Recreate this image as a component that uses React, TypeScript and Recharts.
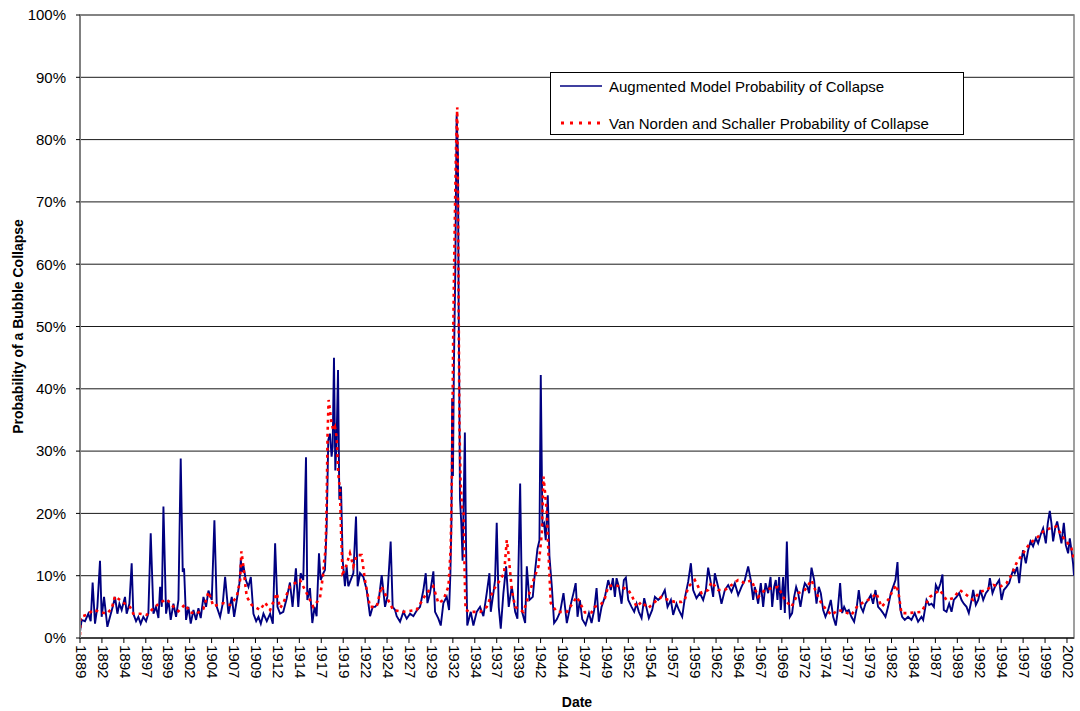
import React from 'react';
import { LineChart, Line, XAxis, YAxis, CartesianGrid, Legend, ReferenceArea } from 'recharts';

const FONT = '"Liberation Sans", Arial, Helvetica, sans-serif';

// x tick positions (decimal time) and the labels shown under them
const xTickValues = [1889, 1891.5, 1894, 1896.5, 1899, 1901.5, 1904, 1906.5, 1909, 1911.5, 1914, 1916.5, 1919, 1921.5, 1924, 1926.5, 1929, 1931.5, 1934, 1936.5, 1939, 1941.5, 1944, 1946.5, 1949, 1951.5, 1954, 1956.5, 1959, 1961.5, 1964, 1966.5, 1969, 1971.5, 1974, 1976.5, 1979, 1981.5, 1984, 1986.5, 1989, 1991.5, 1994, 1996.5, 1999, 2001.5];
const xTickLabels = ['1889', '1892', '1894', '1897', '1899', '1902', '1904', '1907', '1909', '1912', '1914', '1917', '1919', '1922', '1924', '1927', '1929', '1932', '1934', '1937', '1939', '1942', '1944', '1947', '1949', '1952', '1954', '1957', '1959', '1962', '1964', '1967', '1969', '1972', '1974', '1977', '1979', '1982', '1984', '1987', '1989', '1992', '1994', '1997', '1999', '2002'];
const yTickValues = [0, 10, 20, 30, 40, 50, 60, 70, 80, 90, 100];

// Augmented Model Probability of Collapse: [time, percent]
const augmentedSeries: [number, number][] = [
  [1889.00, 1.0], [1889.19, 2.9], [1889.57, 2.7], [1889.95, 3.9], [1890.22, 2.7], [1890.44, 8.9], [1890.71, 2.3], [1890.98, 5.0],
  [1891.28, 12.4], [1891.47, 3.4], [1891.74, 6.6], [1892.12, 1.8], [1892.42, 3.4], [1892.73, 5.0], [1892.99, 6.6], [1893.26, 3.9],
  [1893.49, 5.5], [1893.75, 4.5], [1894.13, 6.6], [1894.32, 3.9], [1894.63, 5.5], [1894.89, 12.0], [1895.08, 3.9], [1895.39, 2.7],
  [1895.65, 3.4], [1895.92, 2.3], [1896.22, 3.4], [1896.53, 2.7], [1896.79, 3.9], [1897.06, 16.8], [1897.37, 3.9], [1897.67, 5.0],
  [1897.94, 3.2], [1898.13, 8.2], [1898.32, 5.0], [1898.51, 21.1], [1898.81, 3.9], [1899.08, 6.1], [1899.34, 2.9], [1899.65, 5.5],
  [1899.95, 3.4], [1900.22, 6.1], [1900.48, 28.8], [1900.71, 10.6], [1900.86, 11.2], [1901.09, 2.9], [1901.36, 5.0], [1901.62, 2.3],
  [1901.93, 4.5], [1902.23, 2.9], [1902.50, 4.8], [1902.76, 3.2], [1903.07, 6.6], [1903.37, 5.0], [1903.64, 7.6], [1904.02, 6.1],
  [1904.32, 18.9], [1904.59, 5.0], [1904.97, 3.4], [1905.27, 5.5], [1905.54, 9.8], [1905.92, 3.9], [1906.30, 6.6], [1906.57, 3.4],
  [1906.87, 6.1], [1907.17, 8.8], [1907.33, 12.5], [1907.48, 10.6], [1907.63, 11.6], [1907.90, 9.3], [1908.20, 8.2], [1908.47, 9.8],
  [1908.77, 3.9], [1909.08, 2.7], [1909.34, 3.4], [1909.61, 2.3], [1909.91, 3.9], [1910.29, 2.7], [1910.67, 3.9], [1910.98, 2.3],
  [1911.24, 15.2], [1911.51, 5.0], [1911.81, 3.9], [1912.17, 4.2], [1912.55, 6.3], [1912.93, 8.9], [1913.23, 5.0], [1913.61, 11.2],
  [1913.88, 5.0], [1914.15, 10.4], [1914.45, 9.3], [1914.76, 29.0], [1914.91, 6.1], [1915.21, 8.0], [1915.48, 2.4], [1915.74, 5.0],
  [1915.97, 3.5], [1916.24, 13.6], [1916.43, 9.3], [1916.73, 10.4], [1916.92, 10.9], [1917.11, 17.8], [1917.30, 31.8], [1917.49, 32.8],
  [1917.68, 29.1], [1917.80, 30.7], [1917.95, 45.0], [1918.10, 26.9], [1918.25, 31.8], [1918.41, 43.0], [1918.56, 22.2], [1918.75, 24.3],
  [1918.94, 12.5], [1919.20, 8.3], [1919.39, 11.5], [1919.58, 8.3], [1919.85, 9.3], [1920.16, 10.4], [1920.46, 19.5], [1920.65, 8.3],
  [1920.92, 10.4], [1921.30, 9.8], [1921.68, 7.7], [1922.06, 3.5], [1922.36, 5.0], [1922.63, 5.0], [1923.01, 5.6], [1923.39, 10.1],
  [1923.77, 5.0], [1924.03, 6.6], [1924.41, 15.5], [1924.64, 5.0], [1924.91, 4.5], [1925.10, 3.5], [1925.48, 2.6], [1925.86, 4.2],
  [1926.24, 3.1], [1926.62, 3.9], [1927.00, 3.5], [1927.38, 4.4], [1927.76, 5.0], [1928.14, 7.7], [1928.41, 10.4], [1928.60, 5.6],
  [1928.90, 7.2], [1929.28, 10.7], [1929.47, 4.2], [1929.85, 3.1], [1930.12, 2.0], [1930.42, 5.6], [1930.80, 6.6], [1931.07, 4.5],
  [1931.22, 10.4], [1931.34, 18.9], [1931.42, 38.5], [1931.51, 26.0], [1931.62, 43.8], [1931.78, 59.1], [1931.93, 84.0], [1932.08, 77.6],
  [1932.16, 53.0], [1932.23, 40.7], [1932.31, 22.3], [1932.46, 18.5], [1932.61, 12.4], [1932.87, 33.0], [1932.99, 16.1], [1933.14, 2.0],
  [1933.54, 4.2], [1933.84, 2.0], [1934.22, 4.2], [1934.60, 5.0], [1934.98, 3.5], [1935.36, 7.2], [1935.67, 10.4], [1935.82, 4.2],
  [1936.12, 7.2], [1936.31, 9.3], [1936.50, 18.5], [1936.73, 5.0], [1936.96, 1.5], [1937.26, 7.2], [1937.57, 11.5], [1937.87, 5.0],
  [1938.22, 8.3], [1938.60, 4.2], [1938.86, 3.1], [1939.17, 24.8], [1939.39, 4.2], [1939.74, 2.4], [1939.93, 11.5], [1940.23, 6.1],
  [1940.61, 6.6], [1940.88, 10.9], [1941.14, 14.3], [1941.37, 15.7], [1941.52, 42.2], [1941.71, 17.9], [1941.90, 18.4], [1942.09, 15.7],
  [1942.32, 22.9], [1942.51, 13.1], [1942.78, 8.3], [1943.04, 2.4], [1943.35, 3.0], [1943.73, 4.2], [1944.11, 7.2], [1944.49, 2.4],
  [1944.87, 5.0], [1945.25, 7.2], [1945.50, 8.8], [1945.71, 3.4], [1945.98, 6.1], [1946.25, 3.0], [1946.63, 2.1], [1947.01, 4.0],
  [1947.31, 2.4], [1947.61, 4.5], [1947.88, 8.0], [1948.14, 2.6], [1948.45, 5.0], [1948.83, 6.6], [1949.21, 9.3], [1949.51, 7.7],
  [1949.74, 9.6], [1949.97, 6.6], [1950.16, 9.6], [1950.42, 8.2], [1950.73, 5.5], [1950.99, 9.3], [1951.22, 9.7], [1951.49, 6.1],
  [1951.87, 5.0], [1952.17, 4.2], [1952.44, 5.5], [1952.70, 4.2], [1953.01, 3.2], [1953.31, 6.4], [1953.58, 4.8], [1953.84, 3.2],
  [1954.22, 4.5], [1954.53, 6.6], [1954.90, 6.1], [1955.28, 6.6], [1955.66, 7.7], [1955.97, 5.0], [1956.35, 6.1], [1956.61, 3.7],
  [1956.99, 5.5], [1957.26, 4.5], [1957.64, 3.4], [1957.94, 6.4], [1958.32, 9.0], [1958.63, 12.0], [1958.89, 7.7], [1959.27, 6.4],
  [1959.65, 7.2], [1960.03, 6.1], [1960.34, 7.7], [1960.60, 11.3], [1960.91, 8.8], [1961.17, 6.6], [1961.36, 10.4], [1961.74, 8.2],
  [1962.12, 5.5], [1962.50, 7.7], [1962.88, 8.5], [1963.26, 7.4], [1963.64, 8.8], [1964.02, 6.9], [1964.40, 8.2], [1964.78, 9.3],
  [1965.16, 11.5], [1965.46, 9.3], [1965.73, 6.1], [1965.92, 8.2], [1966.30, 5.5], [1966.60, 8.8], [1966.87, 5.0], [1967.14, 8.8],
  [1967.44, 7.2], [1967.71, 9.8], [1967.90, 5.0], [1968.12, 8.2], [1968.31, 9.3], [1968.50, 6.1], [1968.69, 9.8], [1968.88, 4.5],
  [1969.15, 9.8], [1969.34, 4.0], [1969.57, 15.5], [1969.72, 7.7], [1969.91, 3.4], [1970.17, 4.0], [1970.40, 6.6], [1970.63, 8.2],
  [1970.86, 7.2], [1971.12, 5.0], [1971.43, 7.7], [1971.62, 8.8], [1971.92, 8.2], [1972.11, 7.2], [1972.38, 11.3], [1972.68, 9.3],
  [1972.95, 5.5], [1973.21, 8.2], [1973.44, 7.2], [1973.71, 4.5], [1973.97, 3.4], [1974.28, 4.5], [1974.58, 6.1], [1974.85, 3.4],
  [1975.15, 2.0], [1975.34, 4.0], [1975.64, 8.8], [1975.87, 4.0], [1976.10, 5.0], [1976.36, 4.2], [1976.63, 4.5], [1976.93, 3.4],
  [1977.24, 2.6], [1977.50, 4.5], [1977.77, 7.7], [1978.00, 5.0], [1978.26, 4.2], [1978.53, 5.5], [1978.83, 6.1], [1979.14, 6.9],
  [1979.40, 5.5], [1979.67, 7.7], [1979.97, 5.0], [1980.28, 4.5], [1980.54, 4.0], [1980.81, 3.4], [1981.11, 5.0], [1981.42, 7.2],
  [1981.68, 8.2], [1981.95, 9.3], [1982.18, 12.2], [1982.33, 7.2], [1982.52, 4.5], [1982.71, 3.4], [1983.01, 2.9], [1983.39, 3.4],
  [1983.77, 2.9], [1984.15, 4.0], [1984.53, 2.6], [1984.91, 3.4], [1985.11, 2.9], [1985.49, 6.1], [1985.79, 5.3], [1986.06, 5.5],
  [1986.33, 5.0], [1986.55, 8.5], [1986.82, 7.7], [1987.08, 8.8], [1987.31, 10.2], [1987.46, 4.5], [1987.77, 4.2], [1988.07, 5.5],
  [1988.34, 4.2], [1988.60, 6.1], [1988.91, 6.6], [1989.21, 7.2], [1989.48, 6.1], [1989.74, 5.5], [1990.05, 5.0], [1990.31, 4.0],
  [1990.62, 6.1], [1990.81, 7.7], [1991.11, 5.3], [1991.38, 6.1], [1991.64, 7.7], [1991.95, 6.1], [1992.25, 7.2], [1992.52, 7.7],
  [1992.71, 9.6], [1993.01, 7.2], [1993.28, 8.2], [1993.54, 8.8], [1993.77, 9.3], [1994.04, 6.1], [1994.30, 7.7], [1994.60, 8.2],
  [1994.91, 8.8], [1995.17, 10.1], [1995.36, 10.9], [1995.55, 10.4], [1995.82, 11.4], [1996.05, 8.8], [1996.31, 12.5], [1996.50, 14.1],
  [1996.81, 12.0], [1997.07, 14.1], [1997.34, 15.5], [1997.64, 14.7], [1997.95, 16.0], [1998.21, 15.2], [1998.48, 16.5], [1998.78, 17.6],
  [1999.09, 15.2], [1999.31, 18.4], [1999.54, 20.4], [1999.73, 18.4], [1999.92, 15.5], [2000.15, 17.6], [2000.38, 18.7], [2000.61, 17.1],
  [2000.87, 15.2], [2001.14, 18.5], [2001.37, 14.9], [2001.63, 13.6], [2001.82, 16.0], [2002.01, 14.1], [2002.20, 11.9], [2002.30, 10.0],
];

// Van Norden and Schaller Probability of Collapse: [time, percent]
const vanNordenSeries: [number, number][] = [
  [1889.00, 0.5], [1889.05, 3.4], [1889.76, 3.7], [1890.52, 4.5], [1891.28, 4.2], [1892.04, 3.9], [1892.61, 4.7], [1892.99, 6.7],
  [1893.56, 6.1], [1894.13, 5.5], [1894.70, 5.0], [1895.08, 3.9], [1895.84, 3.9], [1896.60, 3.7], [1897.17, 4.5], [1898.13, 5.7],
  [1898.89, 6.2], [1899.65, 5.0], [1900.22, 4.3], [1900.98, 5.4], [1901.55, 4.1], [1902.31, 3.9], [1903.07, 4.7], [1903.64, 7.4],
  [1904.21, 5.1], [1905.35, 5.6], [1906.11, 5.3], [1906.87, 6.6], [1907.25, 9.3], [1907.40, 13.9], [1907.63, 11.4], [1907.82, 8.8],
  [1908.01, 6.6], [1908.58, 5.3], [1909.53, 4.5], [1910.10, 5.7], [1910.67, 4.5], [1911.43, 7.2], [1911.81, 4.8], [1912.17, 5.6],
  [1912.93, 8.3], [1914.07, 9.3], [1914.83, 7.2], [1915.59, 5.0], [1916.35, 6.4], [1916.73, 10.4], [1916.84, 12.5], [1916.99, 14.1],
  [1917.11, 21.1], [1917.22, 32.8], [1917.34, 38.2], [1917.49, 36.6], [1917.68, 34.4], [1917.87, 33.4], [1918.06, 33.9], [1918.25, 32.3],
  [1918.44, 26.4], [1918.63, 23.7], [1918.74, 17.8], [1918.82, 14.6], [1918.93, 10.4], [1919.20, 10.9], [1919.77, 13.6], [1920.15, 11.5],
  [1920.53, 13.3], [1921.10, 13.3], [1921.48, 9.3], [1922.05, 5.0], [1922.81, 5.0], [1923.37, 8.3], [1923.94, 6.6], [1924.70, 4.5],
  [1925.84, 4.2], [1927.36, 4.5], [1928.50, 7.2], [1929.26, 8.3], [1929.85, 5.6], [1930.42, 6.1], [1931.00, 8.3], [1931.26, 14.6],
  [1931.41, 28.0], [1931.55, 50.0], [1931.70, 65.0], [1931.85, 78.0], [1932.00, 85.2], [1932.08, 72.0], [1932.16, 53.0], [1932.25, 34.0],
  [1932.38, 25.0], [1932.55, 21.0], [1932.72, 20.0], [1932.85, 10.0], [1932.95, 4.5], [1933.46, 4.2], [1934.60, 4.2], [1935.36, 5.0],
  [1936.12, 7.7], [1936.88, 9.3], [1937.34, 10.4], [1937.65, 15.7], [1937.84, 13.5], [1938.22, 7.7], [1938.60, 5.0], [1939.55, 4.2],
  [1940.69, 9.3], [1941.26, 11.5], [1941.64, 16.8], [1941.83, 25.9], [1942.02, 23.2], [1942.21, 20.0], [1942.40, 13.5], [1942.66, 5.6],
  [1943.35, 4.2], [1944.49, 4.2], [1945.63, 6.6], [1946.55, 4.1], [1947.31, 4.1], [1947.69, 5.0], [1948.45, 5.5], [1948.83, 6.4],
  [1949.21, 8.3], [1949.97, 8.5], [1950.73, 8.2], [1951.49, 7.7], [1951.87, 6.9], [1952.44, 5.0], [1953.01, 5.8], [1953.77, 4.8],
  [1954.53, 5.8], [1955.28, 6.6], [1956.04, 6.1], [1956.80, 5.8], [1957.56, 5.8], [1957.94, 6.1], [1958.32, 8.2], [1959.08, 9.3],
  [1959.84, 7.2], [1960.60, 7.7], [1960.98, 9.0], [1961.74, 7.7], [1962.50, 7.7], [1963.26, 8.5], [1964.02, 9.3], [1964.78, 8.8],
  [1965.54, 9.3], [1966.30, 6.6], [1967.06, 7.7], [1967.82, 8.0], [1968.58, 8.2], [1969.34, 6.1], [1970.10, 5.0], [1970.86, 7.2],
  [1971.62, 7.7], [1972.38, 9.3], [1972.95, 7.2], [1973.52, 5.5], [1974.09, 4.5], [1974.66, 3.7], [1975.41, 4.5], [1976.17, 4.2],
  [1976.93, 3.7], [1977.69, 5.3], [1978.45, 5.8], [1979.21, 6.4], [1979.78, 7.2], [1980.35, 5.0], [1981.11, 6.1], [1981.68, 7.7],
  [1982.06, 8.5], [1982.33, 6.9], [1982.63, 4.0], [1983.39, 4.0], [1984.15, 4.1], [1984.91, 4.2], [1985.87, 6.6], [1987.01, 7.7],
  [1987.77, 6.1], [1988.53, 6.4], [1989.29, 7.7], [1990.05, 6.9], [1990.81, 6.1], [1991.57, 7.4], [1992.33, 7.7], [1993.09, 8.5],
  [1993.84, 8.2], [1994.60, 8.8], [1995.17, 10.1], [1995.74, 12.0], [1996.50, 13.6], [1997.26, 15.2], [1998.02, 16.0], [1998.78, 17.1],
  [1999.54, 17.6], [2000.30, 17.9], [2000.87, 16.5], [2001.44, 15.5], [2002.01, 14.4], [2002.30, 12.5],
];

const seriesNames = ['Augmented Model Probability of Collapse', 'Van Norden and Schaller Probability of Collapse'];
const seriesColors = ['#000080', '#FF0000'];

const augmentedData = augmentedSeries.map(([t, v]) => ({ t, v }));
const vanNordenData = vanNordenSeries.map(([t, v]) => ({ t, v }));

const XTick = (props: any) => {
  const { x, y, payload, index } = props;
  const label = xTickLabels[index] ?? String(payload.value);
  return (
    <text
      transform={`translate(${x + 1},${y}) rotate(90)`}
      x={0}
      y={0}
      dy="0.35em"
      textAnchor="start"
      fontFamily={FONT}
      fontSize={15}
      fill="#000"
    >
      {label}
    </text>
  );
};

const LegendBox = (props: any) => {
  const payload = props.payload || [];
  return (
    <div
      style={{
        width: 414,
        height: 63,
        border: '1px solid #000',
        background: '#fff',
        boxSizing: 'border-box',
        position: 'relative',
        fontFamily: FONT,
        fontSize: 15,
        color: '#000',
      }}
    >
      {payload.map((p: any, i: number) => (
        <div
          key={i}
          style={{ position: 'absolute', left: 9, top: i === 0 ? 3 : 40, height: 20, display: 'flex', alignItems: 'center', whiteSpace: 'nowrap' }}
        >
          <svg width={42} height={6} style={{ display: 'block' }}>
            {i === 0 ? (
              <line x1={0} y1={3} x2={42} y2={3} stroke={p.color} strokeWidth={1.3} />
            ) : (
              <line x1={1} y1={3} x2={42} y2={3} stroke={p.color} strokeWidth={3} strokeDasharray="3 6" />
            )}
          </svg>
          <span style={{ marginLeft: 7 }}>{p.value}</span>
        </div>
      ))}
    </div>
  );
};

export default function App() {
  return (
    <div style={{ position: 'absolute', left: 0, top: 0, width: 1080, height: 711, background: '#fff' }}>
      <LineChart width={1080} height={711} margin={{ top: 15, right: 6, left: 0, bottom: 0 }}>
        <CartesianGrid vertical={false} stroke="#1a1a1a" strokeWidth={1} />
        <XAxis
          type="number"
          dataKey="t"
          domain={[1889, 2002.3]}
          allowDataOverflow
          ticks={xTickValues}
          interval={0}
          height={73}
          tick={<XTick />}
          tickSize={5}
          tickLine={{ stroke: '#000' }}
          axisLine={{ stroke: '#000', strokeWidth: 1 }}
          label={{ value: 'Date', position: 'insideBottom', offset: 4, style: { fontFamily: FONT, fontSize: 14, fontWeight: 'bold', fill: '#000' } }}
        />
        <YAxis
          type="number"
          domain={[0, 100]}
          ticks={yTickValues}
          interval={0}
          width={80}
          tickSize={4}
          tickMargin={10}
          tickFormatter={(v: number) => `${v}%`}
          tick={{ fontFamily: FONT, fontSize: 15, fill: '#000' }}
          tickLine={{ stroke: '#000' }}
          axisLine={{ stroke: '#808080', strokeWidth: 2 }}
          label={{ value: 'Probability of a Bubble Collapse', angle: -90, position: 'center', dx: -22, style: { fontFamily: FONT, fontSize: 14, fontWeight: 'bold', fill: '#000' } }}
        />
        <ReferenceArea x1={1889} x2={2002.3} y1={0} y2={100} fill="none" stroke="#808080" strokeWidth={1.5} />
        <Line
          data={augmentedData}
          dataKey="v"
          name={seriesNames[0]}
          type="linear"
          stroke={seriesColors[0]}
          strokeWidth={1.9}
          dot={false}
          activeDot={false}
          isAnimationActive={false}
        />
        <Line
          data={vanNordenData}
          dataKey="v"
          name={seriesNames[1]}
          type="linear"
          stroke={seriesColors[1]}
          strokeWidth={2.6}
          strokeDasharray="3 4"
          dot={false}
          activeDot={false}
          isAnimationActive={false}
        />
        <Legend
          layout="vertical"
          align="center"
          verticalAlign="middle"
          content={<LegendBox />}
          wrapperStyle={{ position: 'absolute', left: 550, top: 72, width: 414, height: 63 }}
        />
      </LineChart>
    </div>
  );
}
